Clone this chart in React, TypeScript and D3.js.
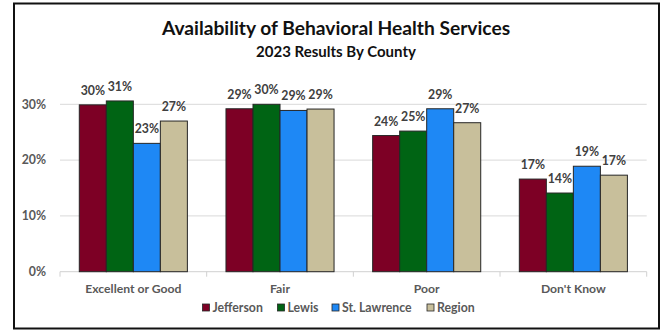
import React from "react";
import * as d3 from "d3";

const categories = ["Excellent or Good", "Fair", "Poor", "Don't Know"];
const seriesNames = ["Jefferson", "Lewis", "St. Lawrence", "Region"];
const jefferson = [0.299, 0.292, 0.244, 0.166];
const lewis = [0.306, 0.3, 0.252, 0.141];
const stLawrence = [0.23, 0.289, 0.292, 0.189];
const region = [0.27, 0.2915, 0.267, 0.173];
const yTicks = [0, 0.1, 0.2, 0.3];
const colors = ["#7d0025", "#006414", "#1e88f5", "#c8bf9b"];

const seriesValues = [jefferson, lewis, stLawrence, region];

const W = 664;
const H = 330;
const FONT = "Lato, 'Open Sans', sans-serif";

export default function App() {
  const x0 = d3.scaleBand<string>().domain(categories).range([60, 646.7]).paddingInner(0).paddingOuter(0);
  const x1 = d3
    .scaleBand<string>()
    .domain(seriesNames)
    .range([19.3, x0.bandwidth() - 19.3])
    .padding(0);
  const y = d3.scaleLinear().domain([0, 0.1]).range([271.7, 215.9]);
  const pct = d3.format(".0%");
  const tickFmt = d3.format(".0%");

  const legendItems = [
    { name: "Jefferson", x: 202.5 },
    { name: "Lewis", x: 277.5 },
    { name: "St. Lawrence", x: 332 },
    { name: "Region", x: 427 },
  ];

  return (
    <div style={{ position: "fixed", left: 0, top: 0 }}>
      <svg width={W} height={H} style={{ display: "block", background: "#fff" }}>
        <rect x={0} y={0} width={W} height={H} fill="#fff" />
        <rect x={14} y={3.5} width={645} height={325} fill="#fff" stroke="#111" strokeWidth={2} />
        <text x={336} y={35} textAnchor="middle" fontFamily={FONT} fontWeight={700} fontSize={19.2} fill="#111">
          Availability of Behavioral Health Services
        </text>
        <text x={336} y={56.5} textAnchor="middle" fontFamily={FONT} fontWeight={700} fontSize={15} fill="#111">
          2023 Results By County
        </text>

        {yTicks.map((t) => (
          <g key={t}>
            {t > 0 && (
              <line x1={60} x2={646.7} y1={y(t)} y2={y(t)} stroke="#d9d9d9" strokeWidth={1} />
            )}
            <text
              x={46}
              y={y(t)}
              dy="0.35em"
              textAnchor="end"
              fontFamily={FONT}
              fontWeight={700}
              fontSize={12.3}
              fill="#595959"
            >
              {tickFmt(t)}
            </text>
          </g>
        ))}
        <line x1={60} x2={646.7} y1={y(0)} y2={y(0)} stroke="#d0d0d0" strokeWidth={1} />
        {[...categories.map((c) => x0(c) as number), 646.7].map((xv, i) => (
          <line key={i} x1={xv} x2={xv} y1={y(0)} y2={y(0) + 5} stroke="#d0d0d0" strokeWidth={1} />
        ))}

        {categories.map((c, ci) => (
          <g key={c} transform={`translate(${x0(c)},0)`}>
            {seriesNames.map((s, si) => {
              const v = seriesValues[si][ci];
              const bx = x1(s) as number;
              const bw = x1.bandwidth();
              return (
                <g key={s}>
                  <rect
                    x={bx}
                    y={y(v)}
                    width={bw}
                    height={y(0) - y(v)}
                    fill={colors[si]}
                    stroke="#262626"
                    strokeWidth={1}
                  />
                  <text
                    x={bx + bw / 2}
                    y={y(v) - 10}
                    textAnchor="middle"
                    fontFamily={FONT}
                    fontWeight={700}
                    fontSize={12.3}
                    fill="#404040"
                  >
                    {pct(v)}
                  </text>
                </g>
              );
            })}
            <text
              x={x0.bandwidth() / 2}
              y={293}
              textAnchor="middle"
              fontFamily={FONT}
              fontWeight={700}
              fontSize={12.2}
              fill="#595959"
            >
              {c}
            </text>
          </g>
        ))}

        {legendItems.map((it, i) => (
          <g key={it.name}>
            <rect x={it.x} y={304} width={7} height={7} fill={colors[i]} stroke="#262626" strokeWidth={0.8} />
            <text x={it.x + 10} y={311.5} fontFamily={FONT} fontWeight={700} fontSize={12.3} fill="#595959">
              {seriesNames[i]}
            </text>
          </g>
        ))}
      </svg>
    </div>
  );
}
